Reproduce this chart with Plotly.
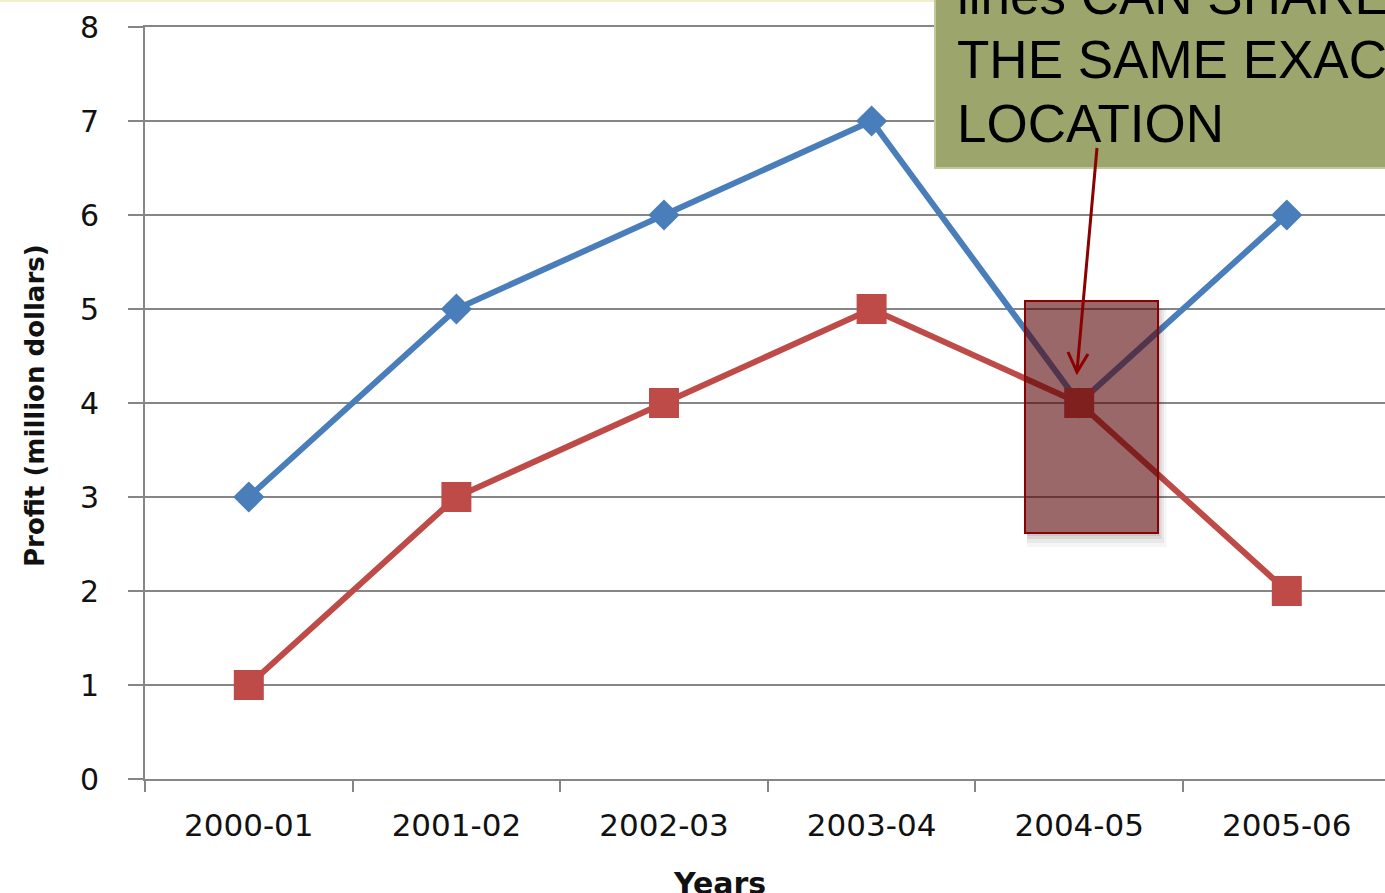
import plotly.graph_objects as go

# ---- data ----
years = ["2000-01", "2001-02", "2002-03", "2003-04", "2004-05", "2005-06"]
series_a = [3, 5, 6, 7, 4, 6]
series_b = [1, 3, 4, 5, 4, 2]
y_ticks = [0, 1, 2, 3, 4, 5, 6, 7, 8]
callout_lines = ["lines CAN SHARE", "THE SAME EXACT", "LOCATION"]

# ---- layout geometry (pixels) ----
W, H = 1385, 893
L, R, T, B = 145, 0, 27, 114
plot_w = W - L - R
plot_h = H - T - B
cat_px = 207.6


def px_x(px):
    return (px - L) / plot_w


def px_y(py):
    return (H - B - py) / plot_h


BLUE = "#4A7EBB"
RED = "#BE4B48"
GRID = "#868686"

fig = go.Figure()
fig.add_trace(go.Scatter(
    x=years, y=series_a, mode="lines+markers",
    line=dict(color=BLUE, width=6),
    marker=dict(symbol="diamond", size=24, color=BLUE),
    showlegend=False, hoverinfo="skip"))
fig.add_trace(go.Scatter(
    x=years, y=series_b, mode="lines+markers",
    line=dict(color=RED, width=6),
    marker=dict(symbol="square", size=30, color=RED),
    showlegend=False, hoverinfo="skip"))

x_max = -0.5 + plot_w / cat_px

fig.update_layout(
    width=W, height=H,
    margin=dict(l=L, r=R, t=T, b=B, autoexpand=False),
    paper_bgcolor="white", plot_bgcolor="white",
    font=dict(family="DejaVu Sans", color="#111111"),
    xaxis=dict(
        type="category", range=[-0.5, x_max],
        tickson="boundaries", ticks="outside", ticklen=11, tickwidth=2,
        tickcolor=GRID, showline=True, linecolor=GRID, linewidth=2,
        mirror=True,
        showgrid=False, tickfont=dict(size=31, family="DejaVu Sans"),
        ticklabelstandoff=18, automargin=False, fixedrange=True),
    yaxis=dict(
        range=[0, 8], tickvals=y_ticks, ticks="outside", ticklen=15,
        tickwidth=2, tickcolor=GRID, showline=True, linecolor=GRID,
        linewidth=2, showgrid=True, gridcolor=GRID, gridwidth=2,
        zeroline=False, tickfont=dict(size=30, family="DejaVu Sans"),
        ticklabelstandoff=23, automargin=False, fixedrange=True),
)

# thin strip at very top
fig.add_shape(type="rect", xref="paper", yref="paper",
              x0=px_x(0), x1=px_x(935), y0=px_y(2), y1=px_y(0),
              fillcolor="#F3EDC9", line=dict(width=0), layer="above")

# axis titles
fig.add_annotation(xref="paper", yref="paper", x=px_x(35), y=px_y(406),
                   text="<b>Profit (million dollars)</b>", textangle=-90,
                   showarrow=False, font=dict(size=26, family="DejaVu Sans", color="#111111"),
                   xanchor="center", yanchor="middle")
fig.add_annotation(xref="paper", yref="paper", x=px_x(719), y=px_y(864),
                   text="<b>Years</b>", showarrow=False,
                   font=dict(size=30, family="DejaVu Sans", color="#111111"),
                   xanchor="center", yanchor="top")

# highlight rectangle: soft shadow strips (outside the box only) + rect
rx0, rx1, ry0, ry1 = 1025, 1158, 301, 533
for d, a in [(14, 0.04), (10, 0.05), (6, 0.07), (3, 0.08)]:
    # bottom strip
    fig.add_shape(type="rect", xref="paper", yref="paper",
                  x0=px_x(rx0 + 2), x1=px_x(rx1 + d * 0.6), y0=px_y(ry1 + d), y1=px_y(ry1 + 1),
                  fillcolor="rgba(0,0,0,{})".format(a), line=dict(width=0), layer="above")
    # right strip
    fig.add_shape(type="rect", xref="paper", yref="paper",
                  x0=px_x(rx1 + 1), x1=px_x(rx1 + d * 0.6), y0=px_y(ry1 + 1), y1=px_y(ry0 + 8),
                  fillcolor="rgba(0,0,0,{})".format(a), line=dict(width=0), layer="above")
fig.add_shape(type="rect", xref="paper", yref="paper",
              x0=px_x(rx0), x1=px_x(rx1), y0=px_y(ry1), y1=px_y(ry0),
              fillcolor="rgba(87,3,3,0.6)",
              line=dict(color="#8B0000", width=2), layer="above")

# callout box
fig.add_shape(type="rect", xref="paper", yref="paper",
              x0=px_x(935), x1=px_x(1400), y0=px_y(168), y1=px_y(-10),
              fillcolor="#9CA56C", line=dict(color="#C3C89A", width=2), layer="above")
line_bottoms = [27, 91, 155]
for txt, yb in zip(callout_lines, line_bottoms):
    fig.add_annotation(xref="paper", yref="paper", x=px_x(955), y=px_y(yb),
                       text=txt, showarrow=False, align="left",
                       xanchor="left", yanchor="bottom",
                       font=dict(size=53, family="Liberation Sans", color="black"))

# arrow
fig.add_shape(type="line", xref="paper", yref="paper",
              x0=px_x(1097), y0=px_y(148), x1=px_x(1077), y1=px_y(371),
              line=dict(color="#8B0000", width=3), layer="above")
fig.add_shape(type="path", xref="paper", yref="paper",
              path="M {} {} L {} {} L {} {}".format(
                  px_x(1068), px_y(352), px_x(1077), px_y(372), px_x(1088), px_y(354)),
              line=dict(color="#8B0000", width=3), layer="above")

fig.write_html("out.html", config={"displayModeBar": False},
               post_script="document.body.style.margin='0px';")
